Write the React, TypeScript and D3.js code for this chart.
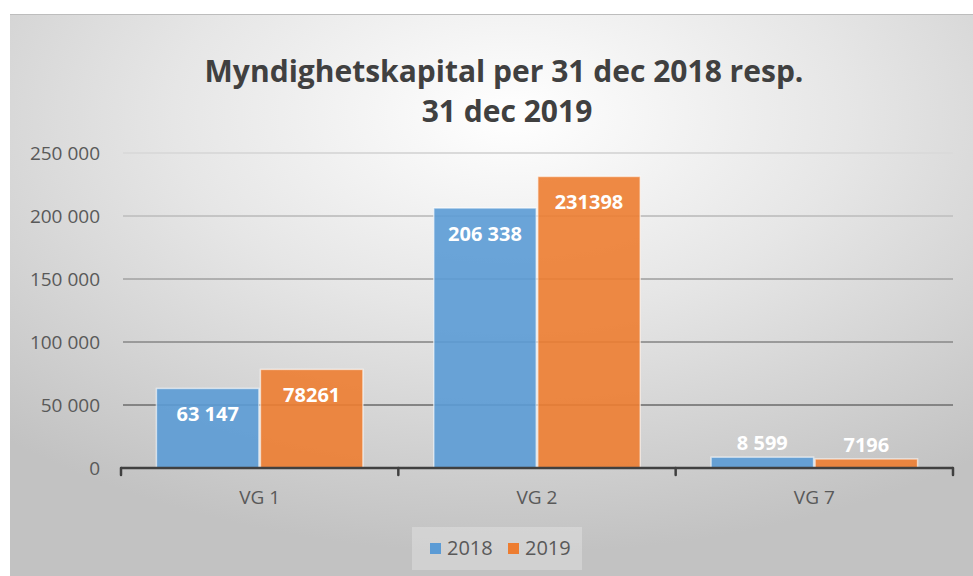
import React, { useEffect, useRef } from 'react';
import * as d3 from 'd3';

const categories = ['VG 1', 'VG 2', 'VG 7'];
const seriesNames = ['2018', '2019'];
const values2018 = [63147, 206338, 8599];
const values2019 = [78261, 231398, 7196];
const yTicks = [0, 50000, 100000, 150000, 200000, 250000];
const titleLines = ['Myndighetskapital per 31 dec 2018 resp.', '31 dec 2019'];

const colors: Record<string, string> = { '2018': '#5B9BD5', '2019': '#ED7D31' };

// 2018 labels use space grouping, 2019 labels are plain
const spaceLocale = d3.formatLocale({ decimal: ',', thousands: ' ', grouping: [3], currency: ['', ''] });
const labelFormat: Record<string, (n: number) => string> = {
  '2018': spaceLocale.format(',d'),
  '2019': d3.format('d'),
};

const W = 973;
const H = 576;
const FONT = "'Open Sans', 'DejaVu Sans', sans-serif";

const App = () => {
  const svgRef = useRef<SVGSVGElement>(null);

  useEffect(() => {
    const svg = d3.select(svgRef.current);
    svg.selectAll('*').remove();

    const plot = { left: 121, right: 953, top: 153, bottom: 468 };

    const defs = svg.append('defs');
    const bg = defs.append('radialGradient')
      .attr('id', 'bg-grad')
      .attr('cx', '0.52').attr('cy', '0.18').attr('r', '0.78');
    bg.append('stop').attr('offset', '0%').attr('stop-color', '#ffffff');
    bg.append('stop').attr('offset', '45%').attr('stop-color', '#e6e6e6');
    bg.append('stop').attr('offset', '100%').attr('stop-color', '#c2c2c2');

    const gridGrad = defs.append('linearGradient')
      .attr('id', 'grid-grad')
      .attr('gradientUnits', 'userSpaceOnUse')
      .attr('x1', 0).attr('x2', 0)
      .attr('y1', plot.bottom).attr('y2', plot.top);
    gridGrad.append('stop').attr('offset', '0%').attr('stop-color', '#6f6f6f');
    gridGrad.append('stop').attr('offset', '100%').attr('stop-color', '#dadada');

    // chart area background
    svg.append('rect')
      .attr('x', 10).attr('y', 14)
      .attr('width', W - 10).attr('height', H - 14)
      .attr('fill', 'url(#bg-grad)');
    svg.append('line')
      .attr('x1', 10).attr('x2', W).attr('y1', 14.5).attr('y2', 14.5)
      .attr('stroke', '#bdbdbd').attr('stroke-width', 1);

    // title
    const title = svg.append('text')
      .attr('text-anchor', 'middle')
      .attr('fill', '#404040')
      .style('font-family', FONT)
      .style('font-weight', 700)
      .style('font-size', '30px');
    title.append('tspan').attr('x', 504).attr('y', 82).text(titleLines[0]);
    title.append('tspan').attr('x', 507).attr('y', 122).text(titleLines[1]);

    const x0 = d3.scaleBand<string>()
      .domain(categories)
      .range([plot.left, plot.right])
      .paddingInner(0.25)
      .paddingOuter(0.125);
    const x1 = d3.scaleBand<string>()
      .domain(seriesNames)
      .range([0, x0.bandwidth()]);
    const y = d3.scaleLinear().domain([0, 250000]).range([plot.bottom, plot.top]);

    // gridlines
    svg.append('g')
      .selectAll('line')
      .data(yTicks.filter((t) => t > 0))
      .enter()
      .append('line')
      .attr('x1', plot.left + 2)
      .attr('x2', plot.right)
      .attr('y1', (d) => y(d))
      .attr('y2', (d) => y(d))
      .attr('stroke', 'url(#grid-grad)')
      .attr('stroke-width', 2);

    // y labels
    svg.append('g')
      .selectAll('text')
      .data(yTicks)
      .enter()
      .append('text')
      .attr('x', 100)
      .attr('y', (d) => y(d) + 7)
      .attr('text-anchor', 'end')
      .attr('fill', '#595959')
      .style('font-family', FONT)
      .style('font-size', '19px')
      .text((d) => spaceLocale.format(',d')(d));

    // bars
    const rows = categories.map((c, i) => ({
      category: c,
      items: [
        { series: '2018', value: values2018[i] },
        { series: '2019', value: values2019[i] },
      ],
    }));

    const groups = svg.append('g')
      .selectAll('g')
      .data(rows)
      .enter()
      .append('g')
      .attr('transform', (d) => `translate(${x0(d.category)},0)`);

    groups.selectAll('rect')
      .data((d) => d.items)
      .enter()
      .append('rect')
      .attr('x', (d) => (x1(d.series) as number) + 0.75)
      .attr('y', (d) => y(d.value))
      .attr('width', x1.bandwidth() - 1.5)
      .attr('height', (d) => plot.bottom - y(d.value))
      .attr('fill', (d) => colors[d.series])
      .attr('fill-opacity', 0.9)
      .attr('stroke', '#ffffff')
      .attr('stroke-opacity', 0.6)
      .attr('stroke-width', 1.5);

    groups.selectAll('text')
      .data((d) => d.items)
      .enter()
      .append('text')
      .attr('x', (d) => (x1(d.series) as number) + x1.bandwidth() / 2)
      .attr('y', (d) => {
        const top = y(d.value);
        return plot.bottom - top > 40 ? top + 33 : top - 7;
      })
      .attr('text-anchor', 'middle')
      .attr('fill', '#ffffff')
      .style('font-family', FONT)
      .style('font-weight', 700)
      .style('font-size', '20px')
      .text((d) => labelFormat[d.series](d.value));

    // x axis
    const axis = svg.append('g');
    axis.append('line')
      .attr('x1', plot.left).attr('x2', plot.right)
      .attr('y1', plot.bottom).attr('y2', plot.bottom)
      .attr('stroke', '#404040').attr('stroke-width', 2.5);
    const boundaries = d3.range(categories.length + 1).map((i) => plot.left + i * x0.step());
    axis.selectAll('line.tick')
      .data(boundaries)
      .enter()
      .append('line')
      .attr('class', 'tick')
      .attr('x1', (d) => d).attr('x2', (d) => d)
      .attr('y1', plot.bottom).attr('y2', plot.bottom + 7)
      .attr('stroke', '#404040').attr('stroke-width', 2.5)
      .attr('stroke-linecap', 'round');
    axis.selectAll('text')
      .data(categories)
      .enter()
      .append('text')
      .attr('x', (d) => (x0(d) as number) + x0.bandwidth() / 2)
      .attr('y', 504)
      .attr('text-anchor', 'middle')
      .attr('fill', '#595959')
      .style('font-family', FONT)
      .style('font-size', '19px')
      .text((d) => d);

    // legend
    const legend = svg.append('g');
    legend.append('rect')
      .attr('x', 412).attr('y', 527)
      .attr('width', 170).attr('height', 43)
      .attr('fill', '#ffffff').attr('fill-opacity', 0.25);
    const legendX = [430, 508];
    seriesNames.forEach((s, i) => {
      legend.append('rect')
        .attr('x', legendX[i]).attr('y', 543)
        .attr('width', 11).attr('height', 11)
        .attr('fill', colors[s]);
      legend.append('text')
        .attr('x', legendX[i] + 17).attr('y', 555)
        .attr('fill', '#595959')
        .style('font-family', FONT)
        .style('font-size', '20px')
        .text(s);
    });
  }, []);

  return (
    <svg
      ref={svgRef}
      width={W}
      height={H}
      style={{ position: 'absolute', left: 0, top: 0, background: '#ffffff' }}
    />
  );
};

export default App;
